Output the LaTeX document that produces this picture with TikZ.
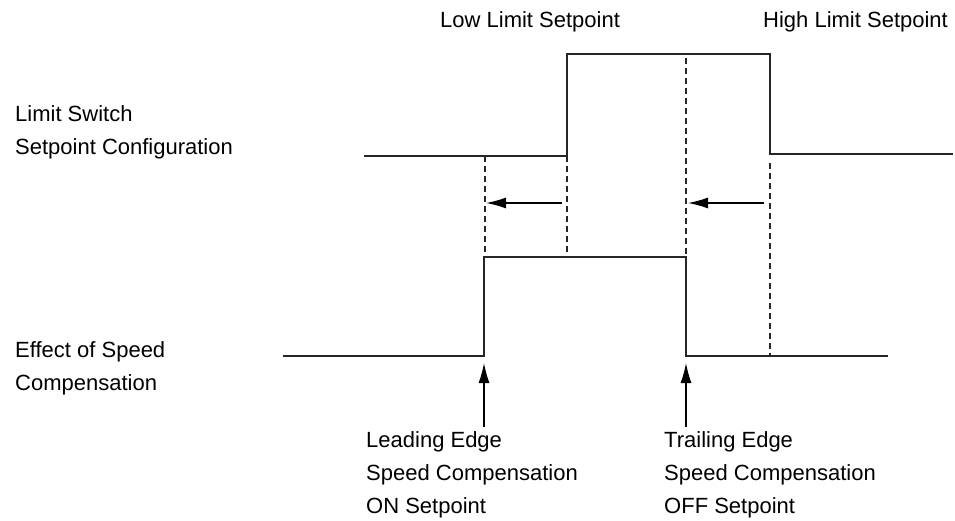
\documentclass[tikz,border=0pt]{standalone}
\usepackage{fontspec}
\setmainfont{Liberation Sans}
\usepackage{tikz}
\usetikzlibrary{arrows.meta, positioning}

\begin{document}
\begin{tikzpicture}[x=1pt, y=-1pt,
  signal/.style = {line width=1.6pt, black!85, line join=miter},
  guide/.style = {line width=1.1pt, black!85, dash pattern=on 6pt off 4pt},
  comparrow/.style = {line width=1.3pt, -{Latex[length=20pt, width=11pt]}},
  lbl/.style = {inner sep=0pt, anchor=base west, align=left, font=\fontsize{22}{33}\selectfont}]
  \useasboundingbox (0, 0) rectangle (955, 521);

  % setpoint configuration
  \coordinate (A0) at (364, 156);
  \coordinate (A1) at (567, 156);
  \coordinate (A2) at (567, 54);
  \coordinate (A3) at (770, 54);
  \coordinate (A4) at (770, 154);
  \coordinate (A5) at (953, 154);
  \draw[signal] (A0) -- (A1) -- (A2) -- (A3) -- (A4) -- (A5);

  % speed compensation
  \coordinate (B0) at (283, 356);
  \coordinate (B1) at (484, 356);
  \coordinate (B2) at (484, 257);
  \coordinate (B3) at (686, 257);
  \coordinate (B4) at (686, 356);
  \coordinate (B5) at (888, 356);
  \draw[signal] (B0) -- (B1) -- (B2) -- (B3) -- (B4) -- (B5);

  \draw[guide] (485, 156) -- (485, 257);
  \draw[guide] (A1) -- (567, 257);
  \draw[guide] (686, 58) -- (B3);
  \draw[guide] (770, 163) -- (770, 356);

  \coordinate (LF) at (562, 203);
  \coordinate (LT) at (486, 203);
  \coordinate (HF) at (764, 203);
  \coordinate (HT) at (688, 203);
  \draw[comparrow] (LF) -- (LT);
  \draw[comparrow] (HF) -- (HT);

  % labels (base = last line)
  \node[lbl] (low) at (440, 28) {Low Limit Setpoint};
  \node[lbl] (high) at (763, 28) {High Limit Setpoint};
  \node[lbl] (cfg) at (15, 155) {Limit Switch\\Setpoint Configuration};
  \node[lbl] (eff) at (15, 390) {Effect of Speed\\Compensation};
  \node[lbl] (lead) at (366, 513) {Leading Edge\\Speed Compensation\\ON Setpoint};
  \node[lbl] (trail) at (664, 513) {Trailing Edge\\Speed Compensation\\OFF Setpoint};

  \coordinate (LB) at (484, 427);
  \coordinate (TB) at (686, 427);
  \draw[comparrow] (LB) -- (484, 363);
  \draw[comparrow] (TB) -- (686, 363);
\end{tikzpicture}
\end{document}
